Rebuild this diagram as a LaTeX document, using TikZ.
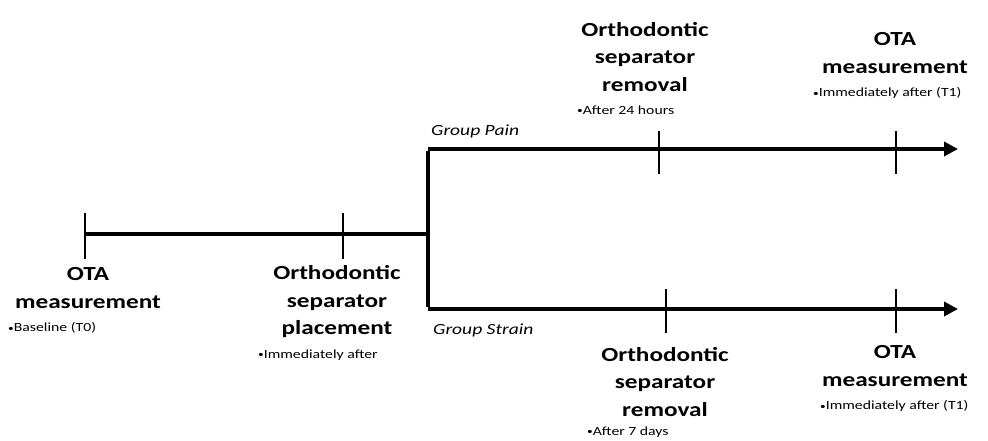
\documentclass[tikz,border=0pt]{standalone}
\usepackage{fontspec}
\setmainfont{Carlito}[FakeStretch=1.26]
\usetikzlibrary{arrows.meta}
\newcommand\mybul{{\fontsize{9}{9}\selectfont\raisebox{0.5pt}{•}}}
\begin{document}
\begin{tikzpicture}[x=1pt,y=-1pt,
  axis/.style={line width=3.8pt,line cap=butt},
  tickmark/.style={line width=2.4pt},
  event/.style={font=\fontsize{20}{27.5}\selectfont\bfseries,align=center,inner sep=0pt},
  sub/.style={font=\fontsize{12.5}{14}\selectfont,inner sep=0pt,anchor=west},
  grp/.style={font=\fontsize{15.5}{18}\selectfont\itshape,inner sep=0pt,anchor=west}]
\useasboundingbox (0,0) rectangle (988,440);
% coordinates
\coordinate (start) at (85,234);
\coordinate (place) at (343,234);
\coordinate (split) at (428,234);
\coordinate (ptop) at (428,149);
\coordinate (pbot) at (428,309);
\coordinate (pend) at (958,149);
\coordinate (send) at (958,309);
\coordinate (prem) at (659,149);
\coordinate (pota) at (896,149);
\coordinate (srem) at (666,309);
\coordinate (sota) at (896,309);
% main lines
\draw[axis] (start) -- (split);
\draw[axis] ([yshift=-1.9pt]ptop) -- ([yshift=1.9pt]pbot);
\draw[axis,-{Triangle[length=14pt,width=14pt]}] (ptop) -- (pend);
\draw[axis,-{Triangle[length=14pt,width=14pt]}] (pbot) -- (send);
% ticks
\foreach \c in {start,place}{\draw[tickmark] ([yshift=-25pt]\c) -- ([yshift=21pt]\c);}
\foreach \c in {prem,pota}{\draw[tickmark] ([yshift=-25pt]\c) -- ([yshift=18pt]\c);}
\foreach \c in {srem,sota}{\draw[tickmark] ([yshift=-24pt]\c) -- ([yshift=20pt]\c);}
% texts
\node[event] (t0) at (88,288) {OTA\\measurement};
\node[sub] (t0s) at (8,328) {\mybul Baseline (T0)};
\node[event] (pl) at (337,302) {Orthodontic\\separator\\placement};
\node[sub] (pls) at (258,355) {\mybul Immediately after};
\node[event] (pr) at (645,57) {Orthodontic\\separator\\removal};
\node[sub] (prs) at (577,110) {\mybul After 24 hours};
\node[event] (po) at (895,53) {OTA\\measurement};
\node[sub] (pos) at (813,93) {\mybul Immediately after (T1)};
\node[grp] (gp) at (431,131) {Group Pain};
\node[grp] (gs) at (433,330) {Group Strain};
\node[event] (sr) at (665,382) {Orthodontic\\separator\\removal};
\node[sub] (srs) at (587,432) {\mybul After 7 days};
\node[event] (so) at (895,366) {OTA\\measurement};
\node[sub] (sos) at (820,406) {\mybul Immediately after (T1)};
\end{tikzpicture}
\end{document}
